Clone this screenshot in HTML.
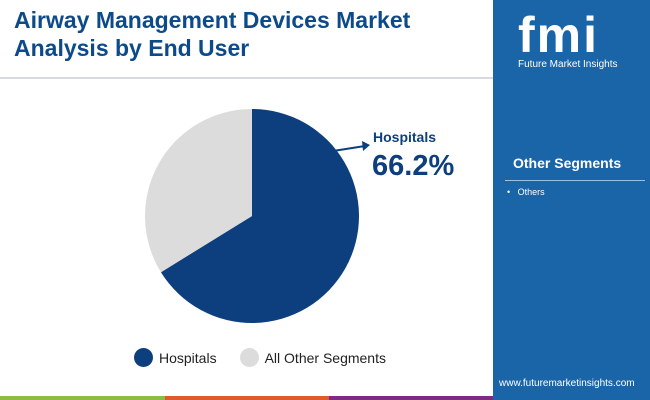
<!DOCTYPE html>
<html><head><meta charset="utf-8"><style>
body{margin:0;width:650px;height:400px;position:relative;overflow:hidden;background:#fff;font-family:"Liberation Sans",sans-serif}
.abs{position:absolute}
</style></head><body>
<div class="abs" style="left:14px;top:6px;font-size:23px;font-weight:bold;color:#0d4a8a;line-height:28px">Airway Management Devices Market<br>Analysis by End User</div>
<div class="abs" style="left:0;top:77px;width:493px;height:2px;background:#d6dbe3"></div>
<svg class="abs" style="left:0;top:0" width="493" height="396">
<g id="pie"></g>
<line x1="333" y1="151" x2="365" y2="146" stroke="#0d3f7e" stroke-width="2"/>
<polygon points="370,145 362,141 363,151" fill="#0d3f7e"/>
<text x="373" y="142" font-size="14" font-weight="bold" fill="#0d3f7e">Hospitals</text>
<text x="372" y="175" font-size="29" font-weight="bold" fill="#0d3f7e">66.2%</text>
</svg>
<div class="abs" style="left:134px;top:348px;font-size:14px;color:#222;display:flex;align-items:center">
<span style="width:19px;height:19px;border-radius:50%;background:#0d3f7e;display:inline-block;margin-right:6px"></span><span style="margin-right:23px">Hospitals</span>
<span style="width:19px;height:19px;border-radius:50%;background:#dcdcdc;display:inline-block;margin-right:6px"></span><span>All Other Segments</span>
</div>
<div class="abs" style="left:0;top:396px;width:165px;height:4px;background:#8bbd45"></div>
<div class="abs" style="left:165px;top:396px;width:164px;height:4px;background:#e05a2b"></div>
<div class="abs" style="left:329px;top:396px;width:164px;height:4px;background:#7d2c82"></div>
<div class="abs" style="left:493px;top:0;width:157px;height:400px;background:#1a64a8">
<div class="abs" style="left:25px;top:8px;font-size:50px;font-weight:bold;color:#fff;letter-spacing:2px;line-height:54px">fmi</div>
<div class="abs" style="left:25px;top:59px;font-size:10px;color:#fff">Future Market Insights</div>
<div class="abs" style="left:20px;top:155px;font-size:14px;font-weight:bold;color:#fff">Other Segments</div>
<div class="abs" style="left:12px;top:180px;width:140px;height:1px;background:#9cc0e2"></div>
<div class="abs" style="left:14px;top:187px;font-size:9px;color:#fff">•&nbsp;&nbsp;&nbsp;Others</div>
<div class="abs" style="left:6px;top:378px;font-size:10px;color:#fff">www.futuremarketinsights.com</div>
</div>
<script>
const categories=["Hospitals","All Other Segments"];
const values=[66.2,33.8];
const colors=["#0d3f7e","#dcdcdc"];
const cx=252,cy=216,r=107;
const g=document.getElementById('pie');
let a0=-Math.PI/2;const tot=values.reduce((s,v)=>s+v,0);
values.forEach((v,i)=>{
const a1=a0+v/tot*2*Math.PI;
const large=(a1-a0)>Math.PI?1:0;
const p=document.createElementNS('http://www.w3.org/2000/svg','path');
p.setAttribute('d',`M${cx},${cy} L${cx+r*Math.cos(a0)},${cy+r*Math.sin(a0)} A${r},${r} 0 ${large} 1 ${cx+r*Math.cos(a1)},${cy+r*Math.sin(a1)} Z`);
p.setAttribute('fill',colors[i]);


g.appendChild(p);a0=a1;});
</script>
</body></html>
